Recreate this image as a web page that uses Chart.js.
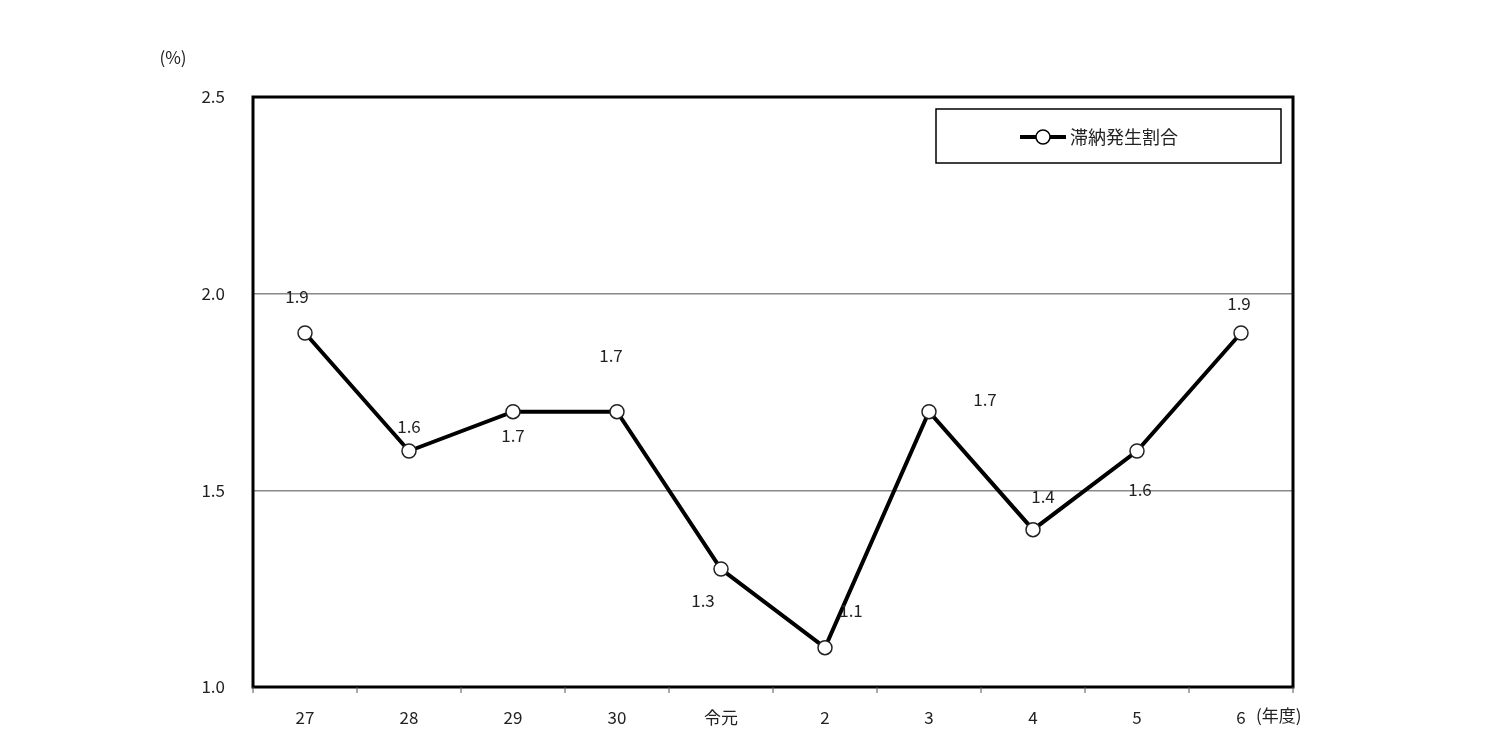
<!DOCTYPE html><html><head><meta charset="utf-8">
<script src="https://cdn.jsdelivr.net/npm/chart.js@4"></script>
<style>body{margin:0;background:#fff}#w{width:1511px;height:754px}</style></head><body>
<div id="w"><canvas id="c"></canvas></div>
<script>
const categories=['27','28','29','30','令元','2','3','4','5','6'];
const rates=[1.9,1.6,1.7,1.7,1.3,1.1,1.7,1.4,1.6,1.9];
const yTicks=[1.0,1.5,2.0,2.5];
const seriesName='滞納発生割合';
const labelOffsets=[[-8,-36],[0,-24],[0,24],[-6,-56],[-18,32],[26,-37],[56,-12],[10,-33],[3,39],[-2,-29]];
const FONT='"Noto Sans CJK JP", "DejaVu Sans Mono", sans-serif';
const deco={id:'deco',afterDatasetsDraw(ch){
 const c=ch.ctx,a=ch.chartArea,m=ch.getDatasetMeta(0);
 c.save();c.fillStyle='#222';c.font='17px '+FONT;c.textAlign='center';c.textBaseline='middle';
 m.data.forEach((p,i)=>c.fillText(rates[i].toFixed(1),p.x+labelOffsets[i][0],p.y+labelOffsets[i][1]));
 c.fillText('(%)',173,58);
 c.textAlign='left';c.fillText('(年度)',1256,716);
 c.strokeStyle='#000';c.lineWidth=3;c.strokeRect(a.left,a.top,a.right-a.left,a.bottom-a.top);
 // x ticks
 c.lineWidth=1;c.strokeStyle='#555';
 for(let i=0;i<=categories.length;i++){const x=a.left+(a.right-a.left)*i/categories.length;c.beginPath();c.moveTo(x,a.bottom);c.lineTo(x,a.bottom+6);c.stroke();}
 // legend
 c.fillStyle='#fff';c.fillRect(936,109,345,54);c.strokeStyle='#000';c.lineWidth=1.5;c.strokeRect(936,109,345,54);
 c.lineWidth=4;c.beginPath();c.moveTo(1020,137);c.lineTo(1066,137);c.stroke();
 c.fillStyle='#fff';c.lineWidth=1.5;c.beginPath();c.arc(1043,137,7,0,Math.PI*2);c.fill();c.stroke();
 c.fillStyle='#222';c.font='18px '+FONT;c.textAlign='left';c.fillText(seriesName,1070,137);
 c.restore();}};
new Chart(document.getElementById('c'),{type:'line',
 data:{labels:categories,datasets:[{label:seriesName,data:rates,borderColor:'#000',borderWidth:4,pointRadius:7,pointHoverRadius:7,pointBackgroundColor:'#fff',pointBorderColor:'#222',pointBorderWidth:1.5,tension:0}]},
 options:{responsive:true,maintainAspectRatio:false,animation:false,
  layout:{padding:{top:97,right:218,left:0,bottom:0}},
  plugins:{legend:{display:false},tooltip:{enabled:false}},
  scales:{
   x:{offset:true,grid:{display:false},border:{display:false},ticks:{color:'#222',font:{size:17,family:FONT},padding:12},afterFit(s){s.height=67;}},
   y:{min:1,max:2.5,afterBuildTicks(s){s.ticks=yTicks.map(v=>({value:v}));},
      grid:{color:'#888',lineWidth:1.5,drawTicks:false},border:{display:false},
      ticks:{color:'#222',font:{size:17,family:FONT},padding:28,callback:v=>v.toFixed(1)},afterFit(s){s.width=253;}}
  }},plugins:[deco]});
</script></body></html>
